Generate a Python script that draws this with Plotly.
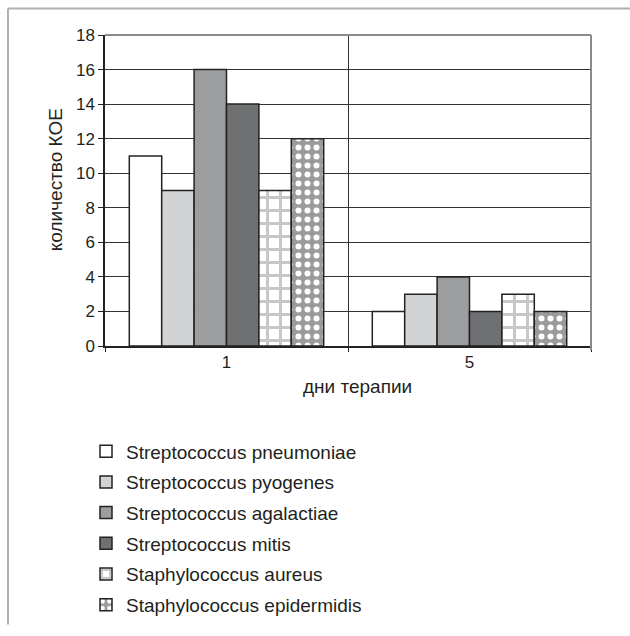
import plotly.graph_objects as go

days = ["1", "5"]
species = [
    "Streptococcus pneumoniae",
    "Streptococcus pyogenes",
    "Streptococcus agalactiae",
    "Streptococcus mitis",
    "Staphylococcus aureus",
    "Staphylococcus epidermidis",
]
pneumoniae = [11, 2]
pyogenes = [9, 3]
agalactiae = [16, 4]
mitis = [14, 2]
aureus = [9, 3]
epidermidis = [12, 2]
series = [pneumoniae, pyogenes, agalactiae, mitis, aureus, epidermidis]

y_ticks = list(range(0, 19, 2))

fills = ["#ffffff", "#d2d3d5", "#9c9d9f", "#6f7072", "#ffffff", "#9a9b9d"]
patterns = [
    None, None, None, None,
    dict(shape="+", fillmode="replace", bgcolor="#ffffff", fgcolor="#c6c7c9", size=13, solidity=0.4),
    dict(shape=".", fillmode="replace", bgcolor="#9a9b9d", fgcolor="#ffffff", size=9, solidity=0.35),
]

FONT = "Liberation Sans, Arial, sans-serif"
TXT = "#231f20"

fig = go.Figure()
for i, (name, vals) in enumerate(zip(species, series)):
    marker = dict(color=fills[i], line=dict(color="#222222", width=1.5))
    if patterns[i] is not None:
        marker["pattern"] = patterns[i]
    fig.add_trace(go.Bar(
        x=days, y=vals, name=name, marker=marker, legendgroup=name,
        hoverinfo="skip",
    ))

W, H = 630, 636
L, R, T, B = 105, 39, 35, 284
pw, ph = W - L - R, H - T - B

def px(x):
    return (x - L) / pw

def py(y):
    return (H - B - y) / ph

shapes = [
    dict(type="line", xref="paper", yref="paper", x0=px(8), x1=px(W), y0=py(8), y1=py(8),
         line=dict(color="#b0b0b0", width=2)),
    dict(type="line", xref="paper", yref="paper", x0=px(8), x1=px(8), y0=py(8), y1=py(H),
         line=dict(color="#b0b0b0", width=2)),
    dict(type="line", xref="paper", yref="paper", x0=0, x1=1, y0=1, y1=1,
         line=dict(color="#8a8a8a", width=2)),
    dict(type="line", xref="paper", yref="paper", x0=1, x1=1, y0=py(H - B + 4), y1=1,
         line=dict(color="#8a8a8a", width=2)),
]

fig.update_layout(
    width=W, height=H,
    margin=dict(l=L, r=R, t=T, b=B),
    paper_bgcolor="white", plot_bgcolor="white",
    barmode="group", bargap=0.2, bargroupgap=0,
    font=dict(family=FONT, size=17, color=TXT),
    showlegend=True,
    legend=dict(
        x=px(86), y=py(440), xanchor="left", yanchor="top",
        font=dict(family=FONT, size=19, color=TXT),
        tracegroupgap=3, bgcolor="rgba(0,0,0,0)",
    ),
    shapes=shapes,
    annotations=[
        dict(text="количество КОЕ", xref="paper", yref="paper", x=px(55), y=py(183),
             xanchor="center", yanchor="middle",
             textangle=-90, showarrow=False, font=dict(family=FONT, size=19, color=TXT)),
        dict(text="дни терапии", xref="paper", yref="paper", x=px(357), y=py(393),
             xanchor="center", yanchor="middle",
             showarrow=False, font=dict(family=FONT, size=19, color=TXT)),
    ],
    hovermode=False,
)

fig.update_yaxes(
    range=[0, 18], tickvals=y_ticks, ticktext=[str(v) for v in y_ticks],
    showgrid=True, gridcolor="#333333", gridwidth=1.2,
    showline=True, linecolor="#222222", linewidth=1.5,
    ticks="outside", ticklen=5, tickcolor="#222222", tickwidth=1.2,
    tickfont=dict(family=FONT, size=17), zeroline=False, automargin=False,
)
fig.update_xaxes(
    type="category", categoryarray=days,
    showgrid=True, gridcolor="#333333", gridwidth=1.2, tickson="boundaries",
    showline=True, linecolor="#222222", linewidth=1.5,
    ticks="outside", ticklen=4, tickcolor="#222222", tickwidth=1.2,
    tickfont=dict(family=FONT, size=17), automargin=False,
)

fig.write_html("out.html")
